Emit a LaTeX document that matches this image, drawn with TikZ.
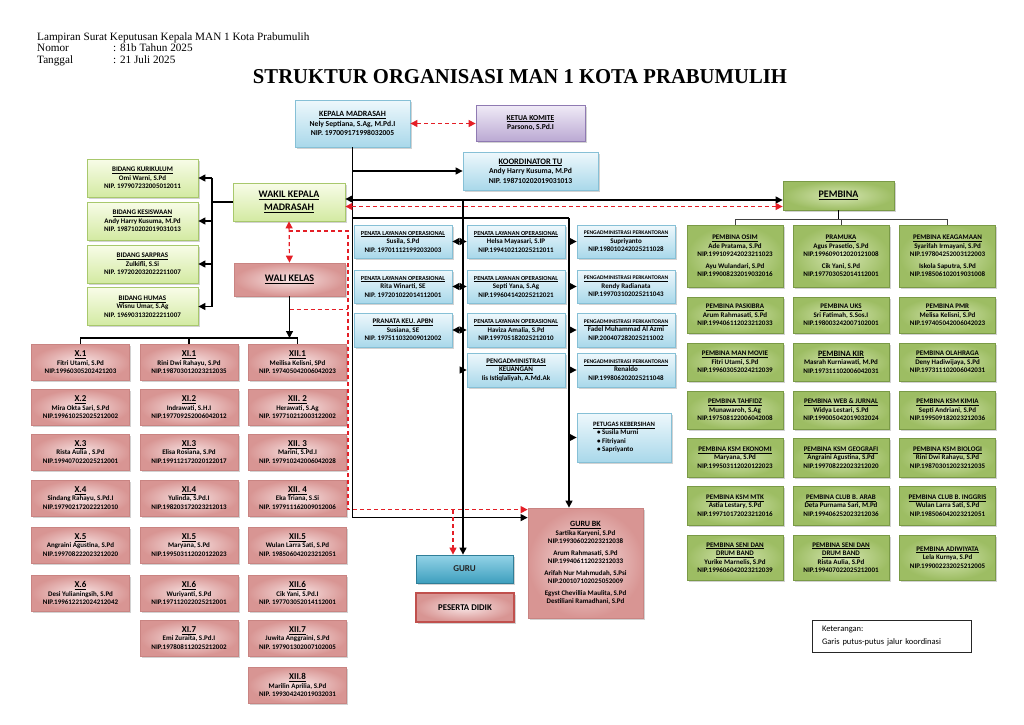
\documentclass[tikz,border=0pt]{standalone}
\usepackage{graphicx}
\usepackage{fontspec}
\setmainfont{Carlito}
\newfontfamily\serifhead{Liberation Serif}
\usetikzlibrary{arrows.meta, shadows, positioning, calc}
\definecolor{bluetop}{HTML}{EEF8FC}
\definecolor{bluebot}{HTML}{A9D8EA}
\definecolor{blueline}{HTML}{86C0D6}
\definecolor{gurutop}{HTML}{93D3E7}
\definecolor{gurubot}{HTML}{3E9FBE}
\definecolor{guruline}{HTML}{2F7E98}
\definecolor{limetop}{HTML}{F8FCE8}
\definecolor{limebot}{HTML}{D3EAA2}
\definecolor{limeline}{HTML}{A8C86C}
\definecolor{olivein}{HTML}{D6E6B3}
\definecolor{oliveout}{HTML}{9DBD63}
\definecolor{oliveline}{HTML}{7A9A46}
\definecolor{pinkin}{HTML}{F8E4E4}
\definecolor{pinkout}{HTML}{D89593}
\definecolor{pinkline}{HTML}{C98482}
\definecolor{lavtop}{HTML}{F0EBF7}
\definecolor{lavbot}{HTML}{BBA9D3}
\definecolor{lavline}{HTML}{8F7AB2}
\definecolor{pdline}{HTML}{C0504D}
\definecolor{dashred}{HTML}{E41E26}
\tikzset{
  box/.style={draw, align=center, inner sep=1pt, line width=0.8pt,
    font=\bfseries\fontsize{7}{8.5}\selectfont,
    drop shadow={shadow xshift=1.5pt, shadow yshift=-1.5pt, opacity=.35}},
  bluebx/.style={box, draw=blueline, top color=bluetop, bottom color=bluebot},
  gurubx/.style={box, draw=guruline, top color=gurutop, bottom color=gurubot},
  limebx/.style={box, draw=limeline, top color=limetop, bottom color=limebot},
  olivebx/.style={box, draw=oliveline, inner color=olivein, outer color=oliveout},
  pinkbx/.style={box, draw=pinkline, inner color=pinkin, outer color=pinkout},
  lavbx/.style={box, draw=lavline, top color=lavtop, bottom color=lavbot},
  bidangbx/.style={limebx, minimum width=111pt, minimum height=38pt},
  staffbx/.style={bluebx, minimum width=98pt, minimum height=33pt},
  pemb/.style={olivebx, minimum width=96pt, minimum height=#1},
  kelas/.style={pinkbx, minimum width=98pt, minimum height=36pt},
  link/.style={draw=black, line width=1.2pt},
  stem/.style={draw=black!75, line width=1pt},
  coord/.style={draw=dashred, line width=1.2pt, dash pattern=on 4pt off 3pt},
  headtxt/.style={anchor=base west, inner sep=0pt, font=\serifhead\fontsize{11.2}{12}\selectfont}
}
\newcommand{\tri}[3]{\underline{#1}\\#2\\#3}
\newcommand{\kls}[3]{{\fontsize{9}{9}\selectfont\underline{#1}}\\#2\\#3}
\newcommand{\plo}{\fontsize{6.2}{8.5}\selectfont}
\newcommand{\ppk}{\fontsize{5.6}{8.5}\selectfont}

\begin{document}
\begin{tikzpicture}[x=1pt, y=-1pt, >={Triangle[length=7pt,width=7pt]}]
  \useasboundingbox (0,0) rectangle (1024,724);
  \fill[white] (0,0) rectangle (1024,724);

  % header
  \node[headtxt] (lamp) at (37,40) {Lampiran Surat Keputusan Kepala MAN 1 Kota Prabumulih};
  \node[headtxt] (nomor) at (37,51.5) {Nomor};
  \node[headtxt] (nomorv) at (113,51.5) {: 81b Tahun 2025};
  \node[headtxt] (tgl) at (37,63) {Tanggal};
  \node[headtxt] (tglv) at (113,63) {: 21 Juli 2025};
  \node[inner sep=0pt] (title) at (520,77) {\resizebox{534pt}{14pt}{\serifhead\bfseries STRUKTUR ORGANISASI MAN 1 KOTA PRABUMULIH}};

  % pimpinan
  \node[bluebx, minimum width=115pt, minimum height=47pt, font=\bfseries\fontsize{7.6}{9.5}\selectfont] (kepala) at (352.5,123.5)
    {{\fontsize{8}{9.5}\selectfont\underline{KEPALA MADRASAH}}\\Nely Septiana, S.Ag, M.Pd.I\\NIP. 197009171998032005};
  \node[lavbx, minimum width=109pt, minimum height=36pt, font=\bfseries\fontsize{7.6}{9.5}\selectfont] (komite) at (530.5,123)
    {\underline{KETUA KOMITE}\\Parsono, S.Pd.I};
  \node[bluebx, minimum width=135pt, minimum height=38pt, font=\bfseries\fontsize{7.6}{9.5}\selectfont] (tu) at (530.5,171)
    {{\fontsize{8.4}{9.5}\selectfont\underline{KOORDINATOR TU}}\\Andy Harry Kusuma, M.Pd\\NIP. 198710202019031013};
  \node[limebx, minimum width=112pt, minimum height=38pt, font=\bfseries\fontsize{10}{12.5}\selectfont] (wakil) at (289,202)
    {\underline{WAKIL KEPALA}\\\underline{MADRASAH}};
  \node[pinkbx, minimum width=111pt, minimum height=33pt, font=\bfseries\fontsize{10}{12}\selectfont] (wali) at (289.5,279.5)
    {\underline{WALI KELAS}};
  \node[olivebx, minimum width=111pt, minimum height=29pt, font=\bfseries\fontsize{10}{12}\selectfont] (pembina) at (838.5,195.5)
    {\underline{PEMBINA}};

  % bidang
  \node[bidangbx] (kur) at (142.5,178) {\tri{BIDANG KURIKULUM}{Omi Warni, S.Pd}{NIP. 197907232005012011}};
  \node[bidangbx] (kes) at (142.5,221) {\tri{BIDANG KESISWAAN}{Andy Harry Kusuma, M.Pd}{NIP. 198710202019031013}};
  \node[bidangbx] (sar) at (142.5,264) {\tri{BIDANG SARPRAS}{Zulkifli, S.Si}{NIP. 197202032022211007}};
  \node[bidangbx] (hum) at (142.5,306.5) {\tri{BIDANG HUMAS}{Wisnu Umar, S.Ag}{NIP. 196903132022211007}};

  % tata usaha
  \node[staffbx] (sa1) at (403,241.5) {\tri{\plo PENATA LAYANAN OPERASIONAL}{Susila, S.Pd}{NIP. 197011121992032003}};
  \node[staffbx] (sa2) at (403,286.5) {\tri{\plo PENATA LAYANAN OPERASIONAL}{Rita Winarti, SE}{NIP. 197201022014112001}};
  \node[staffbx, minimum height=34pt] (sa3) at (403,330) {\tri{PRANATA KEU. APBN}{Susiana, SE}{NIP. 197511032009012002}};
  \node[staffbx] (sb1) at (516,241.5) {\tri{\plo PENATA LAYANAN OPERASIONAL}{Helsa Mayasari, S.IP}{NIP.199410212025212011}};
  \node[staffbx] (sb2) at (516,286.5) {\tri{\plo PENATA LAYANAN OPERASIONAL}{Septi Yana, S.Ag}{NIP.199604142025212021}};
  \node[staffbx, minimum height=34pt] (sb3) at (516,330) {\tri{\plo PENATA LAYANAN OPERASIONAL}{Haviza Amalia, S.Pd}{NIP.199705182025212010}};
  \node[staffbx, minimum height=34pt] (sb4) at (516,370) {\tri{PENGADMINISTRASI}{\underline{KEUANGAN}}{Iis Istiqlaliyah, A.Md.Ak}};
  \node[staffbx] (sc1) at (626,241.5) {\tri{\ppk PENGADMINISTRASI PERKANTORAN}{Supriyanto}{NIP.198010242025211028}};
  \node[staffbx] (sc2) at (626,286.5) {\tri{\ppk PENGADMINISTRASI PERKANTORAN}{Rendy Radianata}{NIP.199703102025211043}};
  \node[staffbx, minimum height=34pt] (sc3) at (626,330) {\tri{\ppk PENGADMINISTRASI PERKANTORAN}{Fadel Muhammad Al Azmi}{NIP.200407282025211002}};
  \node[staffbx, minimum height=34pt] (sc4) at (626,370) {\tri{\ppk PENGADMINISTRASI PERKANTORAN}{Renaldo}{NIP.199806202025211048}};
  \node[bluebx, minimum width=94pt, minimum height=49pt, align=left] (sc5) at (624,437.5)
    {\underline{\fontsize{6.6}{8.5}\selectfont PETUGAS KEBERSIHAN}\\\hspace*{4pt}\textbullet\ Susila Murni\\\hspace*{4pt}\textbullet\ Fitriyani\\\hspace*{4pt}\textbullet\ Sapriyanto};

  % guru, peserta didik, guru bk
  \node[gurubx, minimum width=97pt, minimum height=28pt, font=\bfseries\fontsize{9}{11}\selectfont, text=black!85] (guru) at (464.5,569) {GURU};
  \node[box, draw=pdline, line width=1.8pt, inner color=pinkin, outer color=pinkout, minimum width=98pt, minimum height=29pt,
    font=\bfseries\fontsize{8.8}{11}\selectfont] (didik) at (465,607.5) {PESERTA DIDIK};
  \node[pinkbx, minimum width=115pt, minimum height=110pt] (gbk) at (585.5,563)
    {{\fontsize{8}{9}\selectfont\underline{GURU BK}}\\Sartika Karyeni, S.Pd\\NIP.199306022023212038\\[3pt]
     Arum Rahmasati, S.Pd\\NIP.199406112023212033\\[3pt]
     Arifah Nur Mahmudah, S.Psi\\NIP.200107102025052009\\[3pt]
     Egyst Chevillia Maulita, S.Pd\\Destiliani Ramadhani, S.Pd};

  % pembina
  \node[pemb=62pt] (pa1) at (735,256) {\underline{PEMBINA OSIM}\\Ade Pratama, S.Pd\\NIP.199109242023211023\\[3pt]Ayu Wulandari, S.Pd\\NIP.199008232019032016};
  \node[pemb=36pt] (pa2) at (735,315) {\tri{PEMBINA PASKIBRA}{Arum Rahmasati, S.Pd}{NIP.199406112023212033}};
  \node[pemb=38pt] (pa3) at (735,362) {\tri{PEMBINA MAN MOVIE}{Fitri Utami, S.Pd}{NIP.199603052024212039}};
  \node[pemb=38pt] (pa4) at (735,410) {\tri{PEMBINA TAHFIDZ}{Munawaroh, S.Ag}{NIP.197508122006042008}};
  \node[pemb=39pt] (pa5) at (735,457.5) {\tri{PEMBINA KSM EKONOMI}{Maryana, S.Pd}{NIP.199503112020122023}};
  \node[pemb=39pt] (pa6) at (735,505.5) {\tri{PEMBINA KSM MTK}{Astia Lestary, S.Pd}{NIP.199710172023212016}};
  \node[pemb=45pt] (pa7) at (735,557.5) {\underline{PEMBINA SENI DAN}\\\underline{DRUM BAND}\\Yurike Marnelis, S.Pd\\NIP.199606042023212039};
  \node[pemb=62pt] (pb1) at (841,256) {\underline{PRAMUKA}\\Agus Prasetio, S.Pd\\NIP.199609012020121008\\[3pt]Cik Yani, S.Pd\\NIP.197703052014112001};
  \node[pemb=36pt] (pb2) at (841,315) {\tri{PEMBINA UKS}{Sri Fatimah, S.Sos.I}{NIP.198003242007102001}};
  \node[pemb=38pt] (pb3) at (841,362) {{\fontsize{8.2}{9}\selectfont\underline{PEMBINA KIR}}\\Masrah Kurniawati, M.Pd\\NIP.197311102006042031};
  \node[pemb=38pt] (pb4) at (841,410) {\tri{PEMBINA WEB \& JURNAL}{Widya Lestari, S.Pd}{NIP.199005042019032024}};
  \node[pemb=39pt] (pb5) at (841,457.5) {\tri{PEMBINA KSM GEOGRAFI}{Angraini Agustina, S.Pd}{NIP.199708222023212020}};
  \node[pemb=39pt] (pb6) at (841,505.5) {\tri{PEMBINA CLUB B. ARAB}{Deta Purnama Sari, M.Pd}{NIP.199406252023212036}};
  \node[pemb=45pt] (pb7) at (841,557.5) {\underline{PEMBINA SENI DAN}\\\underline{DRUM BAND}\\Rista Aulia, S.Pd\\NIP.199407022025212001};
  \node[pemb=62pt] (pc1) at (947.5,256) {\underline{PEMBINA KEAGAMAAN}\\Syarifah Irmayani, S.Pd\\NIP.197804252003122003\\[3pt]Iskola Saputra, S.Pd\\NIP.198506102019031008};
  \node[pemb=36pt] (pc2) at (947.5,315) {\tri{PEMBINA PMR}{Melisa Kelisni, S.Pd}{NIP.197405042006042023}};
  \node[pemb=38pt] (pc3) at (947.5,362) {\tri{PEMBINA OLAHRAGA}{Deny Hadiwijaya, S.Pd}{NIP.197311102006042031}};
  \node[pemb=38pt] (pc4) at (947.5,410) {\tri{PEMBINA KSM KIMIA}{Septi Andriani, S.Pd}{NIP.199509182023212036}};
  \node[pemb=39pt] (pc5) at (947.5,457.5) {\tri{PEMBINA KSM BIOLOGI}{Rini Dwi Rahayu, S.Pd}{NIP.198703012023212035}};
  \node[pemb=39pt] (pc6) at (947.5,505.5) {\tri{PEMBINA CLUB B. INGGRIS}{Wulan Larra Sati, S.Pd}{NIP.198506042023212051}};
  \node[pemb=45pt] (pc7) at (947.5,557.5) {\tri{PEMBINA ADIWIYATA}{Lela Kurnya, S.Pd}{NIP.199002232025212005}};

  % wali kelas X
  \node[kelas] (x1) at (80.5,362.5) {\kls{X.1}{Fitri Utami, S.Pd}{NIP.19960305202421203}};
  \node[kelas] (x2) at (80.5,407.5) {\kls{X.2}{Mira Okta Sari, S.Pd}{NIP.199610252025212002}};
  \node[kelas] (x3) at (80.5,452) {\kls{X.3}{Rista Aulia , S.Pd}{NIP.199407022025212001}};
  \node[kelas] (x4) at (80.5,498) {\kls{X.4}{Sindang Rahayu, S.Pd.I}{NIP.197902172022212010}};
  \node[kelas] (x5) at (80.5,545) {\kls{X.5}{Angraini Agustina, S.Pd}{NIP.199708222023212020}};
  \node[kelas] (x6) at (80.5,593) {\kls{X.6}{Desi Yulianingsih, S.Pd}{NIP.199612212024212042}};
  % wali kelas XI
  \node[kelas] (xi1) at (189,362.5) {\kls{XI.1}{Rini Dwi Rahayu, S.Pd}{NIP.198703012023212035}};
  \node[kelas] (xi2) at (189,407.5) {\kls{XI.2}{Indrawati, S.H.I}{NIP.197709252006042012}};
  \node[kelas] (xi3) at (189,452) {\kls{XI.3}{Elisa Rosiana, S.Pd}{NIP.199112172020122017}};
  \node[kelas] (xi4) at (189,498) {\kls{XI.4}{Yulinda, S.Pd.I}{NIP.198203172023212013}};
  \node[kelas] (xi5) at (189,545) {\kls{XI.5}{Maryana, S.Pd}{NIP.199503112020122023}};
  \node[kelas] (xi6) at (189,593) {\kls{XI.6}{Wuriyanti, S.Pd}{NIP.197112022025212001}};
  \node[kelas] (xi7) at (189,638) {\kls{XI.7}{Emi Zuraita, S.Pd.I}{NIP.197808112025212002}};
  % wali kelas XII
  \node[kelas] (xii1) at (297.5,362.5) {\kls{XII.1}{Meilisa Kelisni, SPd}{NIP. 197405042006042023}};
  \node[kelas] (xii2) at (297.5,407.5) {\kls{XII. 2}{Herawati, S.Ag}{NIP. 197710212003122002}};
  \node[kelas] (xii3) at (297.5,452) {\kls{XII. 3}{Marini, S.Pd.I}{NIP. 197910242006042028}};
  \node[kelas] (xii4) at (297.5,498) {\kls{XII. 4}{Eka Triana, S.Si}{NIP. 197911162009012006}};
  \node[kelas] (xii5) at (297.5,545) {\kls{XII.5}{Wulan Larra Sati, S.Pd}{NIP. 198506042023212051}};
  \node[kelas] (xii6) at (297.5,593) {\kls{XII.6}{Cik Yani, S.Pd.I}{NIP. 197703052014112001}};
  \node[kelas] (xii7) at (297.5,638) {\kls{XII.7}{Juwita Anggraini, S.Pd}{NIP. 197901302007102005}};
  \node[kelas] (xii8) at (297.5,685) {\kls{XII.8}{Marilin Aprilia, S.Pd}{NIP. 199304242019032031}};

  % keterangan
  \node[draw=black!85, line width=1pt, fill=white, align=left, inner xsep=10pt, inner ysep=0pt, text width=139pt, minimum height=32pt,
    font=\fontsize{8.5}{13}\selectfont, drop shadow={shadow xshift=1pt, shadow yshift=-1pt, opacity=.3}] (ket) at (891.5,636)
    {Keterangan:\\Garis putus-putus jalur koordinasi};

  % titik bantu
  \coordinate (tbus) at (352.5,218);
  \coordinate (mv) at (463,218);
  \coordinate (cv) at (569,218);
  \coordinate (bd) at (212,199);
  \coordinate (cbus) at (80.5,338);
  \coordinate (pbus) at (838.5,219);
  \coordinate (rv) at (348,231);
  \coordinate (rg) at (453,510);
  \coordinate (bkb) at ($(gbk.north west)+(0,10)$);
  \coordinate (bkr) at ($(gbk.north west)+(0,2)$);
  \coordinate (wkb) at ($(wakil.east)+(0,-3)$);
  \coordinate (wkr) at ($(wakil.east)+(0,4.5)$);
  \coordinate (pbk) at ($(pembina.west)+(0,4.5)$);
  \coordinate (rw2) at ($(wali.south)+(0,13)$);

  % garis komando
  \draw[link,->] (kepala.south) |- (bkb);
  \draw[link,->] (kepala.south |- tu.west) -- (tu.west);
  \draw[link,->] (kepala.south |- pbk) -- (pbk);
  \draw[link,->] (kepala.south |- wkb) -- (wkb);
  \draw[link] (tbus) -- (cv);
  \draw[link,->] (mv |- pbk) -- (mv |- guru.north);
  \draw[link,->] (cv) -- (cv |- gbk.north);
  \foreach \r in {1,2,3} \draw[link,->] (mv |- sa\r.east) -- (sa\r.east);
  \foreach \r in {1,...,4} \draw[link,->] (mv |- sb\r.west) -- (sb\r.west);
  \foreach \r in {1,...,5} \draw[link,->] (cv |- sc\r.west) -- (sc\r.west);

  \draw[link] (wakil.west) -- (bd |- wakil.west);
  \draw[link] (bd |- kur.east) -- (bd |- hum.east);
  \foreach \b in {kur,kes,sar,hum} \draw[link,->] (bd |- \b.east) -- (\b.east);

  \draw[link,->] (wali.south) -- (wali.south |- cbus);
  \draw[link] (x1.north) -- (x1.north |- cbus) -- (xii1.north |- cbus) -- (xii1.north);
  \draw[link] (xi1.north) -- (xi1.north |- cbus);
  \foreach \col/\m in {x/5,xi/6,xii/7}
    \foreach \k [evaluate=\k as \kk using int(\k+1)] in {1,...,\m}
      \draw[stem] (\col\k) -- (\col\kk);

  \draw[link] (pembina.south) -- (pembina.south |- pbus);
  \draw[stem] (pa1.north) -- (pa1.north |- pbus) -- (pc1.north |- pbus) -- (pc1.north);
  \draw[stem] (pb1.north) -- (pb1.north |- pbus);
  \foreach \col in {pa,pb,pc}
    \foreach \k [evaluate=\k as \kk using int(\k+1)] in {1,...,6}
      \draw[stem] (\col\k) -- (\col\kk);

  % jalur koordinasi
  \draw[coord,<->] (kepala.east) -- (kepala.east -| komite.west);
  \draw[coord,<->] (wkr) -- (wkr -| pembina.west);
  \draw[coord,<->] (wakil.south) -- (wali.north);
  \draw[coord,->] (wakil.south |- rv) -- (rv) -- (rv |- bkr) -- (bkr);
  \draw[coord] (rw2) -- (rv |- rw2);
  \draw[coord,->] (rg) -- (rg |- guru.north);
\end{tikzpicture}
\end{document}
